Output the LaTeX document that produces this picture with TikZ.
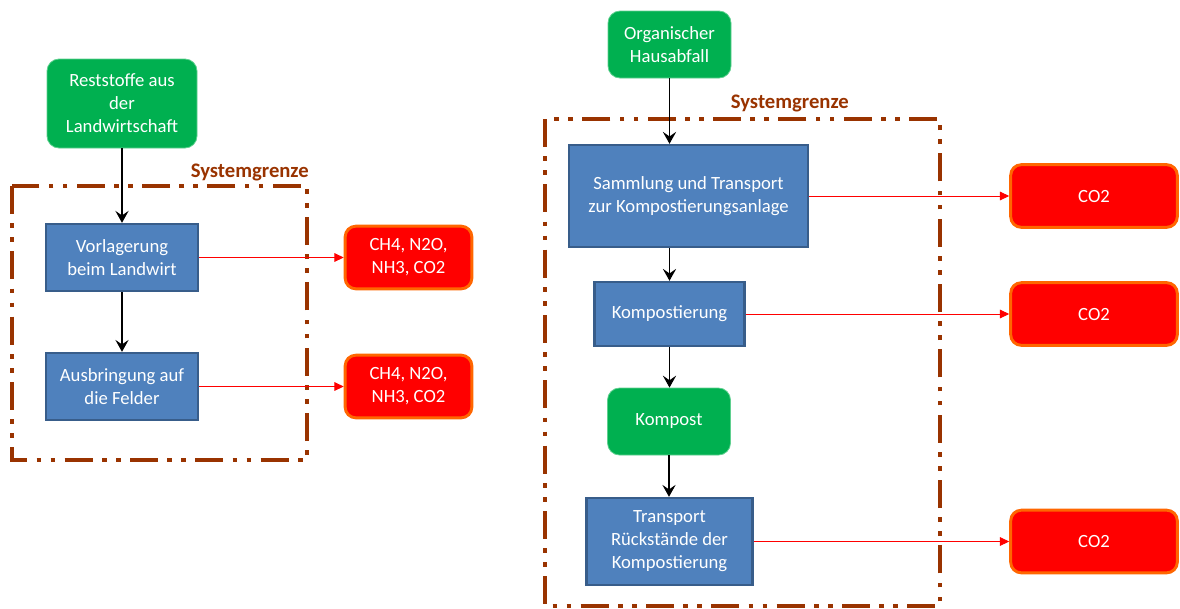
\documentclass[tikz,border=0pt]{standalone}
\usepackage{fontspec}
\setmainfont{Carlito}
\usepackage{xcolor}
\usetikzlibrary{arrows.meta,positioning,calc}
\definecolor{Leaf}{HTML}{00B050}
\definecolor{LeafLine}{HTML}{5FD08F}
\definecolor{Steel}{HTML}{4F81BD}
\definecolor{SteelLine}{HTML}{385D8A}
\definecolor{Alarm}{HTML}{FF0000}
\definecolor{AlarmLine}{HTML}{FF6600}
\definecolor{Rust}{HTML}{993300}
\tikzset{
  source/.style={draw=LeafLine,fill=Leaf,line width=0.6pt,rounded corners=9pt,align=center,font=\fontsize{14}{17.3}\selectfont,text=white},
  process/.style={draw=SteelLine,fill=Steel,line width=1.8pt,align=center,font=\fontsize{14}{17.3}\selectfont,text=white},
  emission/.style={draw=AlarmLine,fill=Alarm,line width=2.2pt,rounded corners=8pt,align=center,font=\fontsize{14}{17.3}\selectfont,text=white},
  border/.style={draw=Rust,line width=2.3pt,dash pattern=on 21pt off 7pt on 3.5pt off 7pt on 3.5pt off 7pt},
  borderlabel/.style={font=\fontsize{15.5}{18}\selectfont\bfseries,text=Rust,anchor=east,inner sep=0pt},
  arr/.style={-{Stealth[length=9pt,width=10pt,inset=3.5pt]},draw=black,line width=0.8pt},
  redarr/.style={-{Triangle[length=7pt,width=6.5pt]},draw=Alarm,line width=0.7pt}
}

\begin{document}
\begin{tikzpicture}[x=0.75pt,y=-0.75pt]
  \useasboundingbox (0,0) rectangle (1180,608);
  % left: agriculture
  \draw[border] (12,186) rectangle (307,460);
  \node[borderlabel] (lsys) at (309,172) {Systemgrenze};
  \node[source,minimum width=112.5pt,minimum height=66.75pt] (rest) at (122,103.5) {Reststoffe aus\\der\\Landwirtschaft};
  \node[process,minimum width=114pt,minimum height=50.25pt] (vorl) at (122,257.5) {Vorlagerung\\beim Landwirt};
  \node[process,minimum width=114pt,minimum height=50.25pt] (ausb) at (122,386.5) {Ausbringung auf\\die Felder};
  \node[emission,minimum width=95pt,minimum height=47pt] (emA) at (408.5,257.5) {CH4, N2O,\\NH3, CO2};
  \node[emission,minimum width=95pt,minimum height=47pt] (emB) at (408.5,386.5) {CH4, N2O,\\NH3, CO2};
  \draw[arr] (rest) -- (vorl);
  \draw[arr] (vorl) -- (ausb);
  \draw[redarr] (vorl) -- (emA);
  \draw[redarr] (ausb) -- (emB);
  % right: household waste
  \draw[border] (545,119) rectangle (940,606);
  \node[borderlabel] (rsys) at (849,103) {Systemgrenze};
  \node[source,minimum width=92.25pt,minimum height=50.25pt] (haus) at (669.5,44.5) {Organischer\\Hausabfall};
  \node[process,minimum width=179pt,minimum height=76.5pt] (samm) at (688.5,196) {Sammlung und Transport\\zur Kompostierungsanlage};
  \node[process,minimum width=112.5pt,minimum height=48pt] (komp) at (669.5,314) {Kompostierung};
  \node[source,minimum width=92.25pt,minimum height=50.25pt] (kpst) at (669,421.5) {Kompost};
  \node[process,minimum width=124.5pt,minimum height=65.25pt] (trans) at (669.5,541.5) {Transport\\Rückstände der\\Kompostierung};
  \node[emission,minimum width=125pt,minimum height=47pt] (coA) at (1094,196) {CO2};
  \node[emission,minimum width=125pt,minimum height=47pt] (coB) at (1094,314) {CO2};
  \node[emission,minimum width=125pt,minimum height=47pt] (coC) at (1094,541.5) {CO2};
  \draw[arr] (haus) -- (haus |- samm.north);
  \draw[arr] (komp |- samm.south) -- (komp);
  \draw[arr] (komp) -- (komp |- kpst.north);
  \draw[arr] (kpst) -- (kpst |- trans.north);
  \draw[redarr] (samm) -- (coA);
  \draw[redarr] (komp) -- (coB);
  \draw[redarr] (trans) -- (coC);
\end{tikzpicture}
\end{document}
